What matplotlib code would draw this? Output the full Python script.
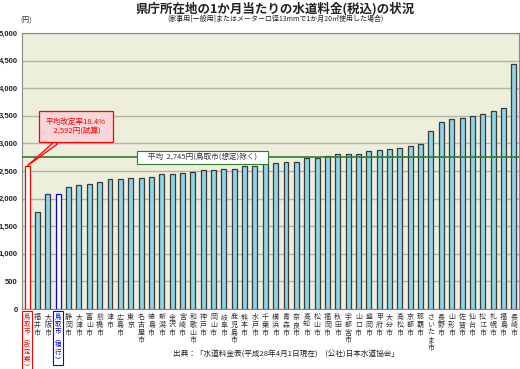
import matplotlib
matplotlib.use('Agg')
import matplotlib.pyplot as plt

plt.rcParams['font.family'] = ['Noto Sans CJK JP', 'DejaVu Sans']

# 都市名と料金（円、20m3/月）
cities = ['鳥取市︵改定案︶', '福井市', '大阪市', '鳥取市︵現行︶', '静岡市', '大津市', '富山市',
          '前橋市', '津市', '広島市', '東京', '名古屋市', '徳島市', '新潟市', '金沢市',
          '宮崎市', '和歌山市', '神戸市', '岡山市', '岐阜市', '鹿児島市', '熊本市', '水戸市',
          '千葉市', '横浜市', '青森市', '奈良市', '高知市', '松山市', '福岡市', '秋田市',
          '宇都宮市', '山口市', '盛岡市', '甲府市', '大分市', '高松市', '京都市', '那覇市',
          'さいたま市', '長野市', '山形市', '佐賀市', '仙台市', '松江市', '札幌市', '福島市',
          '長崎市']
fees = [2592, 1763, 2078, 2078, 2216, 2246, 2264, 2300, 2350, 2350, 2380, 2380, 2397,
        2450, 2450, 2460, 2488, 2512, 2512, 2530, 2530, 2590, 2590, 2640, 2640, 2670,
        2670, 2735, 2735, 2778, 2808, 2808, 2808, 2868, 2887, 2904, 2917, 2958, 2990,
        3230, 3393, 3442, 3454, 3490, 3533, 3587, 3647, 4433]
average = 2745
yticks = [0, 500, 1000, 1500, 2000, 2500, 3000, 3500, 4000, 4500, 5000]

fig = plt.figure(figsize=(5.2, 3.69), dpi=100)
ax = fig.add_axes([0.0423, 0.1626, 0.9557, 0.748])
ax.set_facecolor('#EEEEDC')

x = list(range(len(cities)))
face = ['#8ED4EA'] * len(cities)
edge = ['#3a3a3a'] * len(cities)
face[0], edge[0] = '#FFFFFF', '#FF0000'
face[3], edge[3] = '#FFFFFF', '#0000FF'
ax.bar(x, fees, width=0.48, color=face, edgecolor=edge, linewidth=0.9, zorder=3)

ax.set_xlim(-0.5, len(cities) - 0.5)
ax.set_ylim(0, 5000)
ax.set_yticks(yticks)
ax.set_yticklabels(['{:,}'.format(v) for v in yticks], fontsize=5.5,
                   fontweight='bold', family=['Liberation Sans'], color='#222222')
ax.yaxis.grid(True, color='#B5B5A5', linewidth=1.0, zorder=0)
ax.tick_params(axis='both', length=0)
ax.tick_params(axis='y', pad=3)
ax.tick_params(axis='x', pad=3)
for s in ax.spines.values():
    s.set_color('#8a8a8a')
    s.set_linewidth(0.8)

ax.set_xticks(x)
ax.set_xticklabels(['\n'.join(c) for c in cities], fontsize=5, linespacing=0.95,
                   va='top', color='#333333')
labels = ax.get_xticklabels()
for i, col in ((0, '#FF0000'), (3, '#0000FF')):
    labels[i].set_color(col)
    labels[i].set_fontsize(4.6)
    labels[i].set_linespacing(0.84)
    labels[i].set_bbox(dict(boxstyle='square,pad=0.3', fc='white', ec=col, lw=0.8))

# 平均線
ax.axhline(average, color='#2E7A2E', linewidth=1.2, zorder=4)
ax.text(16.95, average, '     平均  2,745円(鳥取市(想定)除く)     ', fontsize=5.5,
        color='#333333', ha='center', va='center', zorder=5,
        bbox=dict(boxstyle='square,pad=0.3', fc='white', ec='#2E7A2E', lw=0.8))

# 吹き出し
ax.annotate('平均改定率18.4%\n  2,592円(試算)', xy=(0, fees[0]), xytext=(4.7, 3300),
            fontsize=5.5, color='#FF0000', ha='center', va='center', zorder=6,
            bbox=dict(boxstyle='square,pad=0.9', fc='#F6D6D8', ec='#FF0000', lw=0.9),
            arrowprops=dict(arrowstyle='wedge,tail_width=0.5', fc='#F6D6D8', ec='#FF0000',
                            lw=0.9, shrinkA=0, shrinkB=0))

fig.text(0.53, 0.995, '県庁所在地の1か月当たりの水道料金(税込)の状況', fontsize=9,
         fontweight='bold', ha='center', va='top', color='#222222')
fig.text(0.53, 0.96, '(家事用[一般用]またはメーター口径13mmで1か月20㎥使用した場合)',
         fontsize=5, ha='center', va='top', color='#222222')
fig.text(0.05, 0.955, '(円)', fontsize=5, ha='center', va='top', color='#333333')
fig.text(0.55, 0.04, '出典：「水道料金表(平成28年4月1日現在)　(公社)日本水道協会」',
         fontsize=5.5, ha='center', va='center', color='#222222')

fig.savefig('out.png', dpi=100)
plt.close(fig)
